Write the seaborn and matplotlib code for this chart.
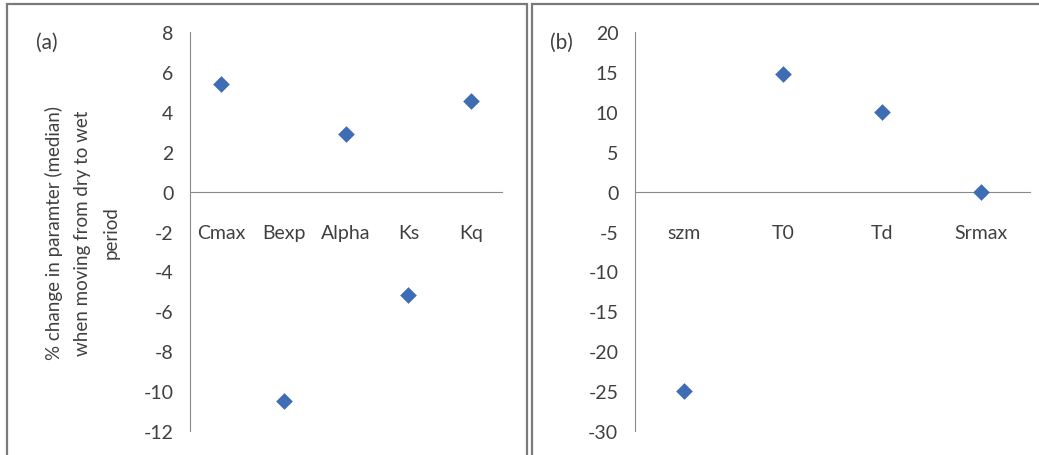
import numpy as np
import pandas as pd
import matplotlib
matplotlib.use('Agg')
import matplotlib.pyplot as plt
from matplotlib.patches import Rectangle
import seaborn as sns

# values
params_a = ['Cmax', 'Bexp', 'Alpha', 'Ks', 'Kq']
change_a = [5.4, -10.5, 2.9, -5.2, 4.55]
params_b = ['szm', 'T0', 'Td', 'Srmax']
change_b = [-25.0, 14.8, 10.0, 0.0]
yticks_a = [8, 6, 4, 2, 0, -2, -4, -6, -8, -10, -12]
yticks_b = [20, 15, 10, 5, 0, -5, -10, -15, -20, -25, -30]
ylabel = '% change in paramter (median)\nwhen moving from dry to wet\nperiod'

sns.set_style('white')
plt.rcParams['font.family'] = ['Lato', 'DejaVu Sans']

blue = '#3F6DB3'
axis_col = '#8A8A8A'
text_col = '#404040'
fs = 14

fig = plt.figure(figsize=(10.39, 4.56), dpi=100)
ax_a = fig.add_axes([0.1829, 0.0526, 0.3003, 0.875])
ax_b = fig.add_axes([0.6112, 0.0526, 0.3802, 0.875])


def draw_panel(ax, cats, vals, ticks):
    df = pd.DataFrame({'param': cats, 'change': vals})
    sns.stripplot(data=df, x='param', y='change', order=cats, jitter=False,
                  marker='D', s=8.5, color=blue, linewidth=0, ax=ax)
    n = len(cats)
    ax.set_xlim(-0.5, n - 0.5)
    ax.set_ylim(min(ticks), max(ticks))
    ax.set_yticks(ticks)
    ax.set_yticklabels([str(t) for t in ticks])
    # boundaries as major ticks, names as minor ticks
    ax.set_xticks(np.arange(n + 1) - 0.5)
    ax.set_xticklabels([])
    ax.set_xticks(np.arange(n), minor=True)
    ax.set_xticklabels(cats, minor=True)
    ax.tick_params(axis='x', which='major', direction='out', length=4,
                   color=axis_col, width=1)
    ax.tick_params(axis='x', which='minor', length=0, pad=23,
                   labelsize=fs, labelcolor=text_col)
    ax.tick_params(axis='y', direction='out', length=4, color=axis_col,
                   width=1, labelsize=fs, labelcolor=text_col, pad=8)
    ax.spines['bottom'].set_position(('data', 0))
    ax.spines['bottom'].set_color(axis_col)
    ax.spines['left'].set_color(axis_col)
    ax.spines['top'].set_visible(False)
    ax.spines['right'].set_visible(False)
    ax.set_xlabel('')
    ax.set_ylabel('')
    ax.patch.set_alpha(0)


draw_panel(ax_a, params_a, change_a, yticks_a)
draw_panel(ax_b, params_b, change_b, yticks_b)

fig.text(82 / 1039, 1 - 233 / 456, ylabel, rotation=90, ha='center',
         va='center', fontsize=13.5, color=text_col, linespacing=1.8)
fig.text(47 / 1039, 1 - 43 / 456, '(a)', ha='center', va='center',
         fontsize=15, color=text_col)
fig.text(561 / 1039, 1 - 43 / 456, '(b)', ha='center', va='center',
         fontsize=15, color=text_col)

# panel frames
fig.patches.append(Rectangle((7 / 1039, -0.1), 520 / 1039, 1.1 - 5 / 456,
                             transform=fig.transFigure, fill=False,
                             edgecolor='#7A7A7A', linewidth=1.6, zorder=0))
fig.patches.append(Rectangle((532 / 1039, -0.1), 0.6, 1.1 - 5 / 456,
                             transform=fig.transFigure, fill=False,
                             edgecolor='#7A7A7A', linewidth=1.6, zorder=0))

fig.savefig('out.png', dpi=100)
